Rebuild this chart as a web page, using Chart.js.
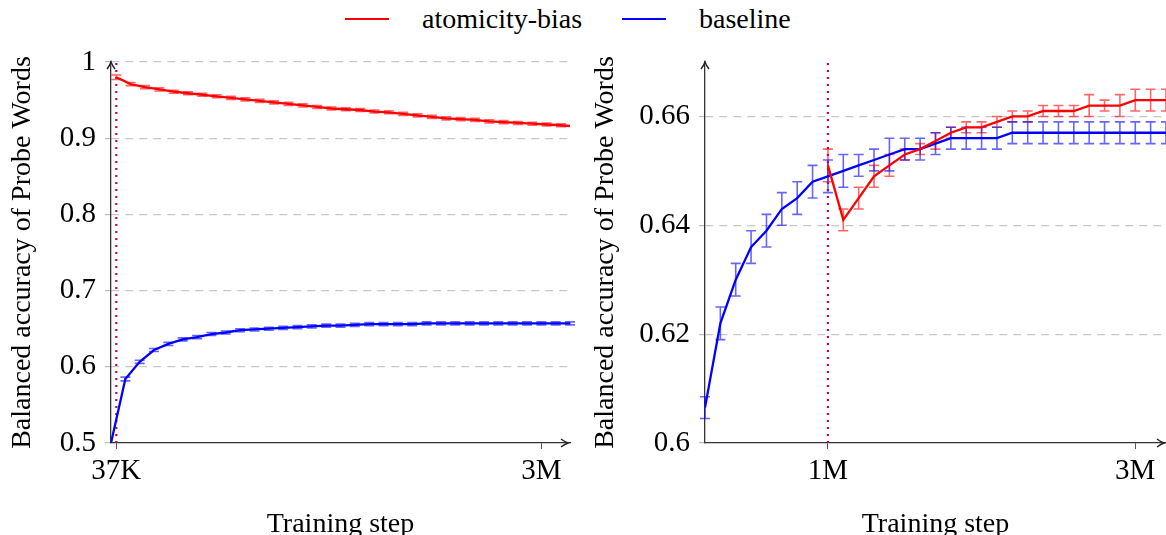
<!DOCTYPE html>
<html>
<head>
<meta charset="utf-8">
<script src="https://cdn.jsdelivr.net/npm/chart.js@4.4.1/dist/chart.umd.min.js"></script>
<style>
html,body{margin:0;padding:0;background:#fff;}
body{width:1166px;height:535px;position:relative;overflow:hidden;font-family:"Liberation Serif",serif;}
#cl{position:absolute;left:0;top:0;width:583px;height:535px;}
#cr{position:absolute;left:583px;top:0;width:583px;height:535px;}
.leg{position:absolute;top:4px;height:30px;line-height:30px;font-size:28px;color:#000;white-space:nowrap;}
.sw{position:absolute;top:18px;height:2px;width:44px;}
</style>
</head>
<body>
<div class="sw" style="left:345px;background:#ff0000"></div>
<div class="leg" style="left:422px">atomicity-bias</div>
<div class="sw" style="left:622px;background:#0000ff"></div>
<div class="leg" style="left:699px">baseline</div>
<canvas id="cl" width="583" height="535"></canvas>
<canvas id="cr" width="583" height="535"></canvas>
<script>
// ---------- DATA ----------
const seriesNames = ['atomicity-bias', 'baseline'];

// baseline (shared by both panels)
const baselineSteps = [0,100000,200000,300000,400000,500000,600000,700000,800000,900000,
  1000000,1100000,1200000,1300000,1400000,1500000,1600000,1700000,1800000,1900000,
  2000000,2100000,2200000,2300000,2400000,2500000,2600000,2700000,2800000,2900000,
  3000000,3100000,3200000];
const baselineAcc = [0.500,0.584,0.6065,0.622,0.630,0.636,0.639,0.643,0.645,0.648,
  0.649,0.650,0.651,0.652,0.653,0.654,0.654,0.655,0.656,0.656,
  0.656,0.656,0.657,0.657,0.657,0.657,0.657,0.657,0.657,0.657,
  0.657,0.657,0.657];
const baselineErrLeft = [0,0.0025,0.002,0.002,0.002,0.002,0.002,0.002,0.002,0.002,
  0.002,0.002,0.002,0.002,0.002,0.002,0.002,0.002,0.002,0.002,
  0.002,0.002,0.002,0.002,0.002,0.002,0.002,0.002,0.002,0.002,
  0.002,0.002,0.002];
const baselineErrRight = [0,0,0.002,0.003,0.003,0.003,0.003,0.003,0.003,0.003,
  0.003,0.003,0.002,0.002,0.003,0.002,0.002,0.002,0.002,0.002,
  0.002,0.002,0.002,0.002,0.002,0.002,0.002,0.002,0.002,0.002,
  0.002,0.002,0.002];

// left panel: atomicity-bias branched at 37K
const leftBranchStep = 37000;
const leftBiasSteps = [37000,137000,237000,337000,437000,537000,637000,737000,837000,937000,
  1037000,1137000,1237000,1337000,1437000,1537000,1637000,1737000,1837000,1937000,
  2037000,2137000,2237000,2337000,2437000,2537000,2637000,2737000,2837000,2937000,
  3037000,3137000,3200000];
const leftBiasAcc = [0.980,0.971,0.967,0.964,0.961,0.959,0.957,0.955,0.953,0.951,
  0.949,0.947,0.945,0.943,0.941,0.939,0.938,0.937,0.935,0.934,
  0.932,0.930,0.928,0.926,0.925,0.924,0.922,0.921,0.920,0.919,
  0.918,0.917,0.916];
const leftBiasErr = [0.003,0.002,0.002,0.002,0.002,0.002,0.002,0.002,0.002,0.002,
  0.002,0.002,0.002,0.002,0.002,0.002,0.002,0.002,0.002,0.002,
  0.002,0.002,0.002,0.002,0.002,0.002,0.002,0.002,0.002,0.002,
  0.002,0.002,0];

// right panel: atomicity-bias branched at 1M
const rightBranchStep = 1000000;
const rightBiasSteps = [1000000,1100000,1200000,1300000,1400000,1500000,1600000,1700000,1800000,1900000,
  2000000,2100000,2200000,2300000,2400000,2500000,2600000,2700000,2800000,2900000,
  3000000,3100000,3200000];
const rightBiasAcc = [0.651,0.641,0.645,0.649,0.651,0.653,0.654,0.6555,0.657,0.658,
  0.658,0.659,0.660,0.660,0.661,0.661,0.661,0.662,0.662,0.662,
  0.663,0.663,0.663];
const rightBiasErr = [0.003,0.002,0.002,0.002,0.002,0.001,0.001,0.0015,0.001,0.001,
  0.001,0.001,0.001,0.001,0.001,0.001,0.001,0.002,0.001,0.002,
  0.002,0.002,0.002];

// tick labels
const leftXTicks = [37000, 3000000];
const leftXTickLabels = ['37K', '3M'];
const leftYTicks = [0.5, 0.6, 0.7, 0.8, 0.9, 1.0];
const leftYTickLabels = ['0.5', '0.6', '0.7', '0.8', '0.9', '1'];
const rightXTicks = [1000000, 3000000];
const rightXTickLabels = ['1M', '3M'];
const rightYTicks = [0.6, 0.62, 0.64, 0.66];
const rightYTickLabels = ['0.6', '0.62', '0.64', '0.66'];

const xTitle = 'Training step';
const yTitle = 'Balanced accuracy of Probe Words';

// ---------- STYLE / PLUGINS ----------
const FONT = "'Liberation Serif', 'Times New Roman', serif";
const RED = '#ff0000', BLUE = '#0000ff', BRANCH = '#cc0050';

const errorBarPlugin = {
  id: 'errorBars',
  beforeDatasetsDraw(chart) {
    const {ctx, chartArea} = chart;
    const xs = chart.scales.x, ys = chart.scales.y;
    ctx.save();
    ctx.beginPath();
    ctx.rect(chartArea.left - 6, chartArea.top - 10, chartArea.right - chartArea.left + 12, chartArea.bottom - chartArea.top + 20);
    ctx.clip();
    chart.data.datasets.forEach(ds => {
      if (!ds.errors) return;
      ctx.strokeStyle = ds.errorColor;
      ctx.lineWidth = 1.6;
      ds.data.forEach((p, i) => {
        const e = ds.errors[i];
        if (!e) return;
        const x = xs.getPixelForValue(p.x);
        const y1 = ys.getPixelForValue(p.y - e);
        const y2 = ys.getPixelForValue(p.y + e);
        const hw = 5;
        ctx.beginPath();
        ctx.moveTo(x, y1); ctx.lineTo(x, y2);
        ctx.moveTo(x - hw, y1); ctx.lineTo(x + hw, y1);
        ctx.moveTo(x - hw, y2); ctx.lineTo(x + hw, y2);
        ctx.stroke();
      });
    });
    ctx.restore();
  }
};

const arrowPlugin = {
  id: 'axisArrows',
  afterDraw(chart) {
    const {ctx, chartArea} = chart;
    ctx.save();
    ctx.strokeStyle = '#222';
    ctx.lineWidth = 1.4;
    const xl = chartArea.left, yt = chartArea.top;
    ctx.beginPath();
    ctx.moveTo(xl - 4, yt + 7); ctx.quadraticCurveTo(xl - 1, yt + 3, xl, yt);
    ctx.quadraticCurveTo(xl + 1, yt + 3, xl + 4, yt + 7);
    ctx.stroke();
    const xr = chartArea.right - 2, yb = chartArea.bottom;
    ctx.beginPath();
    ctx.moveTo(xr - 7, yb - 4); ctx.quadraticCurveTo(xr - 3, yb - 1, xr, yb);
    ctx.quadraticCurveTo(xr - 3, yb + 1, xr - 7, yb + 4);
    ctx.stroke();
    ctx.restore();
  }
};

function pts(xs, ys) { return xs.map((x, i) => ({x: x, y: ys[i]})); }

function makeChart(canvasId, o) {
  return new Chart(document.getElementById(canvasId), {
    type: 'line',
    data: {
      datasets: [
        {label: seriesNames[0], data: pts(o.biasSteps, o.biasAcc), errors: o.biasErr,
         errorColor: 'rgba(255,0,0,0.6)', borderColor: RED, borderWidth: 2.3, pointRadius: 0, tension: 0, fill: false},
        {label: seriesNames[1], data: pts(o.baseSteps, o.baseAcc), errors: o.baseErr,
         errorColor: 'rgba(0,0,255,0.6)', borderColor: BLUE, borderWidth: 2.3, pointRadius: 0, tension: 0, fill: false},
        {label: 'branch', data: [{x: o.branch, y: o.yMin}, {x: o.branch, y: o.yMax}],
         borderColor: BRANCH, borderWidth: 2.2, borderDash: [2, 5], pointRadius: 0, fill: false}
      ]
    },
    options: {
      responsive: false,
      animation: false,
      events: [],
      layout: {padding: {top: 62, left: 0, right: o.padRight, bottom: 0}},
      plugins: {legend: {display: false}, tooltip: {enabled: false}},
      scales: {
        x: {
          type: 'linear', min: o.xMin, max: o.xMax,
          afterBuildTicks: s => { s.ticks = o.xTicks.map(v => ({value: v})); },
          afterFit: s => { s.height = 92; },
          ticks: {autoSkip: false, maxRotation: 0, padding: 5, color: '#000',
                  font: {family: FONT, size: 29},
                  callback: v => o.xTickLabels[o.xTicks.indexOf(v)]},
          grid: {display: true, drawOnChartArea: false, drawTicks: true, tickLength: 6, color: '#555', lineWidth: 1},
          border: {display: true, color: '#333', width: 1.3},
          title: {display: true, text: xTitle, color: '#000', font: {family: FONT, size: 28, lineHeight: 1},
                  padding: {top: 0, bottom: -4}}
        },
        y: {
          type: 'linear', min: o.yMin, max: o.yMax,
          afterBuildTicks: s => { s.ticks = o.yTicks.map(v => ({value: v})); },
          afterFit: s => { s.width = o.yWidth; },
          ticks: {autoSkip: false, padding: 9, color: '#000',
                  font: {family: FONT, size: 29},
                  callback: v => o.yTickLabels[o.yTicks.indexOf(v)]},
          grid: {display: true, drawTicks: true, tickLength: 6, lineWidth: 1.2,
                 color: c => (c.tick && c.tick.value === o.yMin) ? 'rgba(0,0,0,0)' : '#c8c8c8',
                 tickColor: '#bbbbbb'},
          border: {display: true, color: '#333', width: 1.3, dash: [8, 6]},
          title: {display: true, text: yTitle, color: '#000', font: {family: FONT, size: 28, lineHeight: 1},
                  padding: {top: 9, bottom: 0}}
        }
      }
    },
    plugins: [errorBarPlugin, arrowPlugin]
  });
}

makeChart('cl', {
  biasSteps: leftBiasSteps, biasAcc: leftBiasAcc, biasErr: leftBiasErr,
  baseSteps: baselineSteps, baseAcc: baselineAcc, baseErr: baselineErrLeft,
  branch: leftBranchStep, xMin: 0, xMax: 3200000, yMin: 0.5, yMax: 1.0,
  xTicks: leftXTicks, xTickLabels: leftXTickLabels, yTicks: leftYTicks, yTickLabels: leftYTickLabels,
  yWidth: 111, padRight: 13
});

makeChart('cr', {
  biasSteps: rightBiasSteps, biasAcc: rightBiasAcc, biasErr: rightBiasErr,
  baseSteps: baselineSteps.slice(2), baseAcc: baselineAcc.slice(2), baseErr: baselineErrRight.slice(2),
  branch: rightBranchStep, xMin: 200000, xMax: 3200000, yMin: 0.6, yMax: 0.67,
  xTicks: rightXTicks, xTickLabels: rightXTickLabels, yTicks: rightYTicks, yTickLabels: rightYTickLabels,
  yWidth: 122, padRight: 0
});
</script>
</body>
</html>
